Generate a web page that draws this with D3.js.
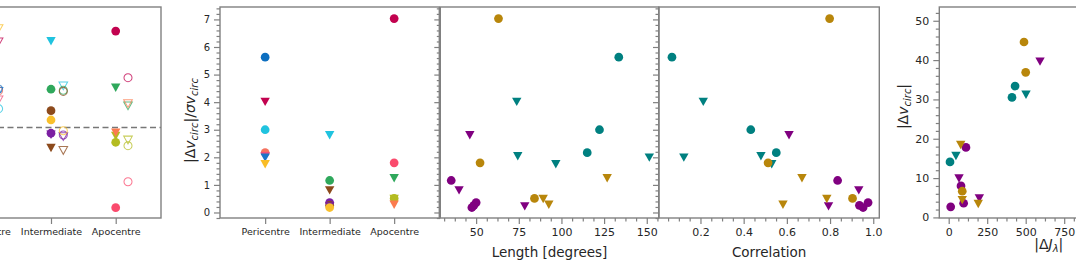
<!DOCTYPE html>
<html lang="en">
<head>
<meta charset="UTF-8">
<title>Stream offsets</title>
<script src="https://cdn.jsdelivr.net/npm/d3@7"></script>
<style>
  body { margin: 0; background: #fff; }
  svg { display: block; font-family: "DejaVu Sans", sans-serif; }
</style>
</head>
<body>
<svg id="fig" width="1076" height="268"></svg>
<script>
// orbital phase categories
const categories = ["Pericentre", "Intermediate", "Apocentre"];

// one entry per stream (20 streams)
const streamCat    = [0,0,0,0,0,0,0, 1,1,1,1,1,1,1, 2,2,2,2,2,2];
const streamMarker = ["o","v","o","o","v","v","v", "v","o","v","o","o","v","o", "o","o","v","o","v","v"];
const streamColor  = ["#0d6fc0","#c2024f","#20c3df","#f5725f","#f0507a","#1a75c8","#f9bd26",
                      "#20c3df","#2fa85c","#8c4a1c","#7b1fa2","#8c4a1c","#7b1fa2","#f9c02c",
                      "#c2024f","#fa4b6d","#2fa85c","#b4bc21","#b4bc21","#fb7b4f"];
// fractional offset (left panel), filled and open estimates
const fracFilled   = [0.36,0.74,0.2,0.33,0.26,0.31,0.85, 0.716,0.318,-0.17,-0.047,0.14,-0.059,0.063,
                      0.80,-0.664,0.33,-0.122,-0.07,-0.042];
const fracOpen     = [0.32,0.71,0.157,0.306,0.23,0.30,0.82, 0.345,0.31,-0.19,-0.061,0.30,-0.075,-0.026,
                      0.414,-0.449,0.18,-0.15,-0.103,0.198];
// |dv_circ| / sigma
const sigmaRatio   = [5.63,4.01,3.0,2.17,2.04,1.99,1.75, 2.8,1.16,0.8,0.36,0.26,0.22,0.18,
                      7.03,1.8,1.24,0.51,0.49,0.28];
const lengthDeg    = [133.6,73.8,122.3,115.1,74.4,151.5,96.7, 46.3,35.4,40.0,50.0,48.7,78.5,47.5,
                      63.1,52.3,126.8,84.2,89.3,92.6];
const correlation  = [0.068,0.213,0.433,0.551,0.48,0.123,0.53, 0.61,0.835,0.933,0.976,0.936,0.793,0.953,
                      0.798,0.513,0.67,0.904,0.785,0.582];
const deltaJ       = [431,502,411,8.5,47,1100,1250, 593,112,67,80,97,199,13,
                      489,500,78,88,88,192];
const deltaV       = [33.4,31.2,30.5,14.1,15.6,22.0,26.0, 39.6,17.8,9.9,8.0,3.6,4.8,2.7,
                      44.6,36.9,18.4,6.66,4.4,3.4];
const phaseColor   = ["#008080", "#800080", "#b8860b"];

const streams = d3.range(streamCat.length).map(i => ({
  cat: streamCat[i], m: streamMarker[i], c: streamColor[i],
  ff: fracFilled[i], fo: fracOpen[i], r: sigmaRatio[i],
  len: lengthDeg[i], corr: correlation[i], dj: deltaJ[i], dv: deltaV[i]
}));

const svg = d3.select("#fig");
const yTop = 7, yBot = 218;
const frameCol = "#808080", textCol = "#262626";

function markerPath(m) {
  if (m === "o") return d3.symbol(d3.symbolCircle, 60)();
  const w = 9.4, h = 8.4;
  return `M${-w/2},${-h/2}L${w/2},${-h/2}L0,${h/2}Z`;
}

let clipId = 0;
function panel(x0, x1) {
  const g = svg.append("g");
  const id = "clip" + (clipId++);
  g.append("clipPath").attr("id", id).append("rect")
    .attr("x", x0).attr("y", yTop).attr("width", x1 - x0).attr("height", yBot - yTop);
  const plot = g.append("g").attr("clip-path", `url(#${id})`);
  return {g, plot, x0, x1};
}

function frame(p) {
  p.g.append("rect").attr("x", p.x0).attr("y", yTop)
    .attr("width", p.x1 - p.x0).attr("height", yBot - yTop)
    .attr("fill", "none").attr("stroke", frameCol).attr("stroke-width", 1.4);
}

function styleAxis(a, fs) {
  a.select(".domain").remove();
  a.selectAll("line").attr("stroke", frameCol).attr("stroke-width", 1.2);
  a.selectAll("text").attr("fill", textCol).attr("font-size", fs)
    .attr("font-family", "DejaVu Sans");
}

// keep only ticks inside the view limits, like matplotlib does
function inView(scale, vals) {
  const [a, b] = d3.extent(scale.domain());
  return vals.filter(v => v >= a && v <= b);
}

function yAxis(p, y, major, minor, labels, fs) {
  const a = p.g.append("g").attr("transform", `translate(${p.x0},0)`)
    .call(d3.axisLeft(y).tickValues(inView(y, major)).tickSize(6).tickPadding(4)
      .tickFormat(labels ? d3.format("d") : ""));
  styleAxis(a, fs);
  const b = p.g.append("g").attr("transform", `translate(${p.x0},0)`)
    .call(d3.axisLeft(y).tickValues(inView(y, minor)).tickSize(3.5).tickFormat(""));
  styleAxis(b, fs);
}

function xAxis(p, x, major, minor, fmt, fs) {
  const a = p.g.append("g").attr("transform", `translate(0,${yBot})`)
    .call(d3.axisBottom(x).tickValues(inView(x, major)).tickSize(6).tickPadding(4).tickFormat(fmt));
  styleAxis(a, fs);
  if (minor) {
    const b = p.g.append("g").attr("transform", `translate(0,${yBot})`)
      .call(d3.axisBottom(x).tickValues(inView(x, minor)).tickSize(3.5).tickFormat(""));
    styleAxis(b, fs);
  }
}

function minorTicks(lo, hi, step, majorStep) {
  return d3.range(Math.ceil(lo / step) * step, hi, step)
    .filter(v => Math.abs(v / majorStep - Math.round(v / majorStep)) > 1e-6);
}

function dots(p, data, xf, yf, colf) {
  p.plot.selectAll(null).data(data).join("path")
    .attr("d", d => markerPath(d.m))
    .attr("transform", d => `translate(${xf(d)},${yf(d)})`)
    .attr("fill", colf);
}

const catIdx = d3.range(categories.length);

// ---------- panel 1: fractional offsets, filled + open ----------
const p1 = panel(-59, 161);
const x1 = d3.scaleLinear().domain([-0.7, 2.7]).range([p1.x0, p1.x1]);
const y1 = d3.scaleLinear().domain([-0.75, 1.0]).range([yBot, yTop]);
p1.plot.append("line").attr("x1", p1.x0).attr("x2", p1.x1)
  .attr("y1", y1(0)).attr("y2", y1(0))
  .attr("stroke", "#777").attr("stroke-width", 1.4).attr("stroke-dasharray", "6,3.5");
p1.plot.selectAll(null).data(streams).join("path")
  .attr("d", d => markerPath(d.m))
  .attr("transform", d => `translate(${x1(d.cat + 0.19)},${y1(d.fo)}) scale(0.92)`)
  .attr("fill", "none").attr("stroke", d => d.c).attr("stroke-width", 1.1)
  .attr("stroke-opacity", 0.75);
dots(p1, streams, d => x1(d.cat), d => y1(d.ff), d => d.c);
frame(p1);
xAxis(p1, x1, catIdx, null, i => categories[i], 9.5);
yAxis(p1, y1, [-0.5, -0.25, 0, 0.25, 0.5, 0.75, 1.0], [], false, 10);

// ---------- panel 2: |dv|/sigma by phase ----------
const p2 = panel(220, 439.3);
const x2 = d3.scaleLinear().domain([-0.7, 2.7]).range([p2.x0, p2.x1]);
const yR = d3.scaleLinear().domain([-0.2, 7.45]).range([yBot, yTop]);
dots(p2, streams, d => x2(d.cat), d => yR(d.r), d => d.c);
frame(p2);
xAxis(p2, x2, catIdx, null, i => categories[i], 9.5);
yAxis(p2, yR, d3.range(0, 8), minorTicks(-0.2, 7.45, 0.2, 1), true, 10);

// y label panel 2
const yl2 = svg.append("text")
  .attr("transform", `translate(195,${(yTop + yBot) / 2 + 8}) rotate(-90)`)
  .attr("text-anchor", "middle").attr("fill", textCol).attr("font-size", 14);
yl2.append("tspan").text("|Δ");
yl2.append("tspan").attr("font-style", "italic").text("v");
yl2.append("tspan").attr("font-style", "italic").attr("font-size", 10).attr("dy", 3).text("circ");
yl2.append("tspan").attr("dy", -3).text("|/");
yl2.append("tspan").attr("font-style", "italic").text("σv");
yl2.append("tspan").attr("font-style", "italic").attr("font-size", 10).attr("dy", 3).text("circ");

// ---------- panel 3: length ----------
const p3 = panel(440.3, 658.7);
const xL = d3.scaleLinear().domain([29, 157]).range([p3.x0, p3.x1]);
dots(p3, streams, d => xL(d.len), d => yR(d.r), d => phaseColor[d.cat]);
frame(p3);
xAxis(p3, xL, [50, 75, 100, 125, 150], minorTicks(29, 157, 6.25, 25), d3.format("d"), 11);
yAxis(p3, yR, d3.range(0, 8), minorTicks(-0.2, 7.45, 0.2, 1), false, 10);
svg.append("text").attr("x", (p3.x0 + p3.x1) / 2).attr("y", 256.5)
  .attr("text-anchor", "middle").attr("fill", textCol).attr("font-size", 13.5)
  .text("Length [degrees]");

// ---------- panel 4: correlation ----------
const p4 = panel(659, 879.3);
const xC = d3.scaleLinear().domain([0.008, 1.028]).range([p4.x0, p4.x1]);
dots(p4, streams, d => xC(d.corr), d => yR(d.r), d => phaseColor[d.cat]);
frame(p4);
xAxis(p4, xC, [0, 0.2, 0.4, 0.6, 0.8, 1.0], minorTicks(0.008, 1.028, 0.05, 0.2), d3.format(".1f"), 11);
yAxis(p4, yR, d3.range(0, 8), minorTicks(-0.2, 7.45, 0.2, 1), false, 10);
svg.append("text").attr("x", (p4.x0 + p4.x1) / 2).attr("y", 256.5)
  .attr("text-anchor", "middle").attr("fill", textCol).attr("font-size", 13.5)
  .text("Correlation");

// ---------- panel 5: |dv| vs |dJ| ----------
const p5 = panel(939.3, 1158.3);
const xJ = d3.scaleLinear().domain([-61, 1361]).range([p5.x0, p5.x1]);
const yV = d3.scaleLinear().domain([-0.15, 53.5]).range([yBot, yTop]);
dots(p5, streams, d => xJ(d.dj), d => yV(d.dv), d => phaseColor[d.cat]);
frame(p5);
xAxis(p5, xJ, [0, 250, 500, 750], minorTicks(-61, 900, 62.5, 250), d3.format("d"), 11);
yAxis(p5, yV, d3.range(0, 51, 10), minorTicks(-0.15, 53.5, 2, 10), true, 11);

const yl5 = svg.append("text")
  .attr("transform", `translate(908,${(yTop + yBot) / 2 - 6}) rotate(-90)`)
  .attr("text-anchor", "middle").attr("fill", textCol).attr("font-size", 14);
yl5.append("tspan").text("|Δ");
yl5.append("tspan").attr("font-style", "italic").text("v");
yl5.append("tspan").attr("font-style", "italic").attr("font-size", 10).attr("dy", 3).text("circ");
yl5.append("tspan").attr("dy", -3).text("|");

const xl5 = svg.append("text").attr("x", (p5.x0 + p5.x1) / 2).attr("y", 249)
  .attr("text-anchor", "middle").attr("fill", textCol).attr("font-size", 14);
xl5.append("tspan").text("|Δ");
xl5.append("tspan").attr("font-style", "italic").text("J");
xl5.append("tspan").attr("font-style", "italic").attr("font-size", 10).attr("dy", 3).text("λ");
xl5.append("tspan").attr("dy", -3).text("|");
</script>
</body>
</html>
